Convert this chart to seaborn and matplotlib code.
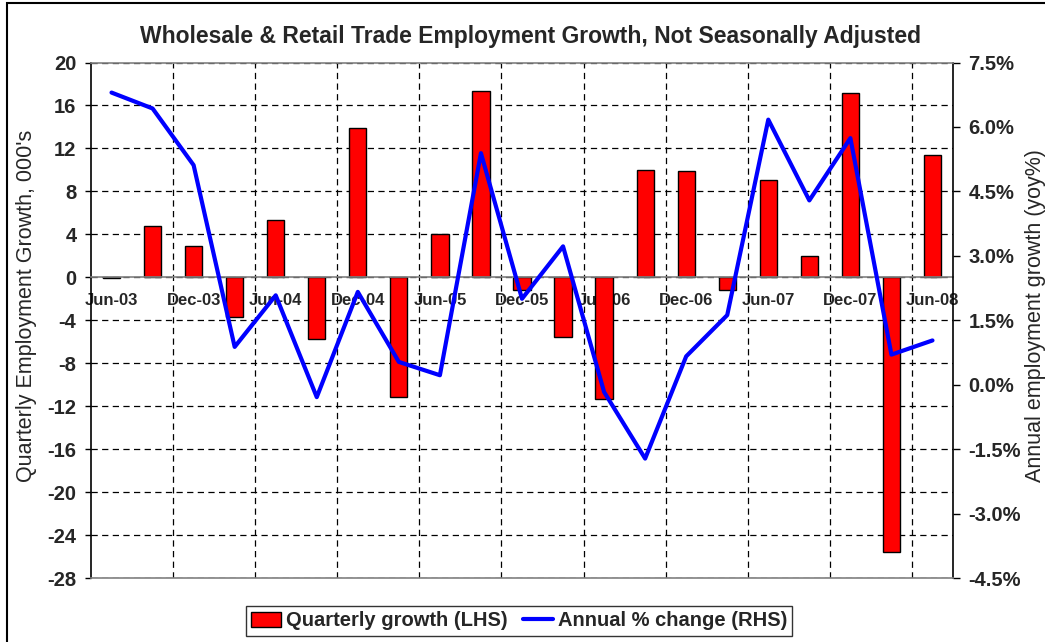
import matplotlib
matplotlib.use('Agg')
import matplotlib.pyplot as plt
from matplotlib.patches import Rectangle
import numpy as np
import pandas as pd
import seaborn as sns

# quarterly data, Jun-03 .. Jun-08
quarters = ['Jun-03', 'Sep-03', 'Dec-03', 'Mar-04', 'Jun-04', 'Sep-04', 'Dec-04',
            'Mar-05', 'Jun-05', 'Sep-05', 'Dec-05', 'Mar-06', 'Jun-06', 'Sep-06',
            'Dec-06', 'Mar-07', 'Jun-07', 'Sep-07', 'Dec-07', 'Mar-08', 'Jun-08']
quarterly_growth = [-0.1, 4.8, 2.9, -3.7, 5.3, -5.7, 13.9, -11.1, 4.0, 17.3, -1.2,
                    -5.6, -11.3, 10.0, 9.9, -1.2, 9.1, 2.0, 17.2, -25.6, 11.4]
annual_change = [6.8, 6.43, 5.11, 0.88, 2.08, -0.29, 2.16, 0.53, 0.22, 5.39, 2.0,
                 3.22, -0.17, -1.72, 0.66, 1.62, 6.17, 4.29, 5.74, 0.7, 1.03]

left_ticks = [-28, -24, -20, -16, -12, -8, -4, 0, 4, 8, 12, 16, 20]
right_ticks = [-4.5, -3.0, -1.5, 0.0, 1.5, 3.0, 4.5, 6.0, 7.5]
xtick_labels = ['Jun-03', 'Dec-03', 'Jun-04', 'Dec-04', 'Jun-05', 'Dec-05',
                'Jun-06', 'Dec-06', 'Jun-07', 'Dec-07', 'Jun-08']

df = pd.DataFrame({'quarter': quarters, 'qtr': quarterly_growth, 'ann': annual_change})

sns.set_style('white')
plt.rcParams['font.family'] = ['Liberation Sans', 'DejaVu Sans']

fig = plt.figure(figsize=(10.45, 6.42), dpi=100)
W, H = 1045, 642
ax = fig.add_axes([91 / W, 1 - 578 / H, 862 / W, (578 - 62.5) / H])

sns.barplot(data=df, x='quarter', y='qtr', color='#ff0000', saturation=1,
            edgecolor='black', linewidth=1, width=0.42, ax=ax, zorder=2)

ax2 = ax.twinx()
sns.lineplot(data=df, x='quarter', y='ann', ax=ax2, color='#0000ff', lw=3,
             sort=False, zorder=3)

ax.set_xlim(-0.5, len(quarters) - 0.5)
ax.set_ylim(-28, 20)
ax2.set_ylim(-4.5, 7.5)

# spines (set position first, it resets the ticks)
ax.spines['bottom'].set_position(('data', 0))
ax.spines['bottom'].set_color('#808080')
ax.spines['top'].set_visible(False)
ax.spines['right'].set_visible(False)
ax.spines['left'].set_color('black')
ax2.spines['left'].set_visible(False)
ax2.spines['right'].set_color('black')
ax2.spines['top'].set_color('#808080')
ax2.spines['bottom'].set_color('#808080')
for s in ax2.spines.values():
    s.set_linewidth(1.2)
ax.spines['left'].set_linewidth(1.2)
ax.spines['bottom'].set_linewidth(1.2)

ax.tick_params(axis='x', which='both', length=0, pad=11)
ax.tick_params(axis='y', direction='out', length=4.5, width=1, color='black', pad=6, left=True)
ax2.tick_params(axis='y', direction='out', length=5, width=1, color='black', pad=6, right=True)

# grid
dash = (0, (5, 3.5))
ax.grid(axis='y', which='major', ls=dash, color='black', lw=0.9)
ax.grid(axis='x', which='minor', ls=dash, color='black', lw=0.9)
ax.grid(axis='x', which='major', visible=False)
ax.set_axisbelow(True)

ax.set_yticks(left_ticks)
ax.set_yticklabels([str(v) for v in left_ticks], fontweight='bold', fontsize=14.5)
ax2.set_yticks(right_ticks)
ax2.set_yticklabels(['%.1f%%' % v for v in right_ticks], fontweight='bold', fontsize=14.5)

ax.set_xticks(range(0, len(quarters), 2))
ax.set_xticklabels(xtick_labels, fontweight='bold', fontsize=12)
ax.set_xticks(np.arange(1.5, len(quarters) - 1, 2), minor=True)

ax.set_xlabel('')
ax.set_ylabel('')
ax2.set_ylabel('')

# legend
leg = fig.legend(handles=[ax.containers[0], ax2.lines[0]],
                 labels=['Quarterly growth (LHS)', 'Annual % change (RHS)'],
                 loc='center', bbox_to_anchor=(519 / W, 1 - 621 / H), ncol=2,
                 frameon=True, fancybox=False, edgecolor='black',
                 prop={'weight': 'bold', 'size': 14.5}, handlelength=1.5,
                 handletextpad=0.25, columnspacing=0.75, borderpad=0.25)
leg.get_frame().set_linewidth(1)

fig.text(531 / W, 1 - 37 / H,
         'Wholesale & Retail Trade Employment Growth, Not Seasonally Adjusted',
         ha='center', va='center', fontsize=16.5, fontweight='bold')
fig.text(27 / W, 1 - 306 / H, "Quarterly Employment Growth, 000's",
         rotation=90, ha='center', va='center', fontsize=15.5)
fig.text(1035 / W, 1 - 316 / H, 'Annual employment growth (yoy%)',
         rotation=90, ha='center', va='center', fontsize=15.5)

# outer chart border
fig.add_artist(Rectangle((7 / W, -0.1), 1.2, 1 - 3 / H + 0.1, transform=fig.transFigure,
                         fill=False, edgecolor='black', lw=1.5))

fig.savefig('out.png', dpi=100)
